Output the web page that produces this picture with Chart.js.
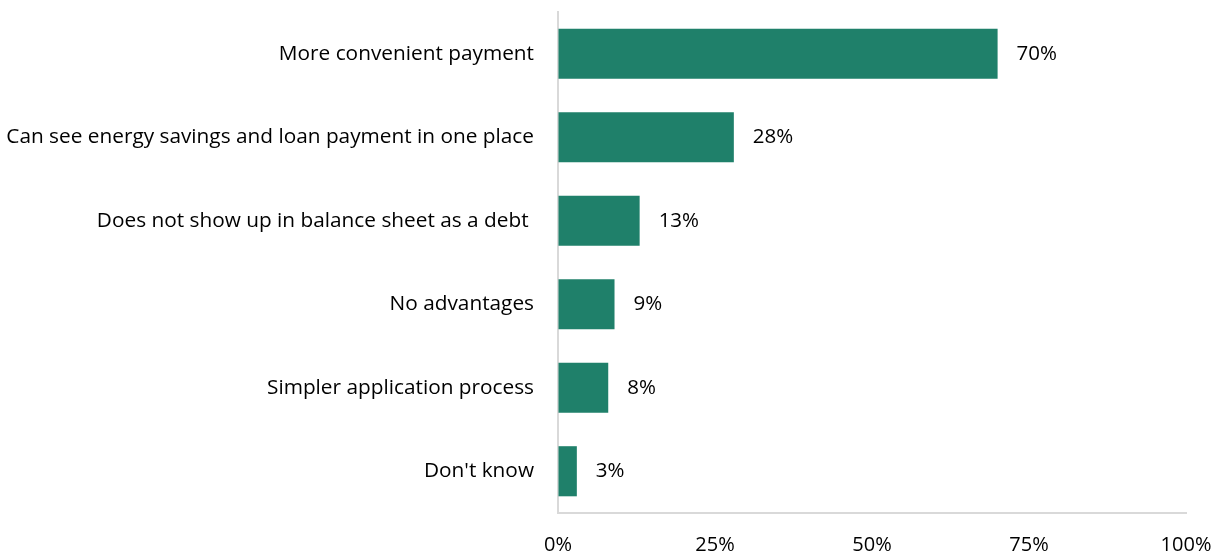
<!DOCTYPE html>
<html>
<head>
<meta charset="utf-8">
<script src="https://cdn.jsdelivr.net/npm/chart.js@4"></script>
<style>
  html, body { margin: 0; padding: 0; background: #fff; }
  #wrap { width: 1225px; height: 557px; }
</style>
</head>
<body>
<div id="wrap"><canvas id="advChart"></canvas></div>
<script>
const categories = [
  'More convenient payment',
  'Can see energy savings and loan payment in one place',
  'Does not show up in balance sheet as a debt ',
  'No advantages',
  'Simpler application process',
  "Don't know"
];
const shares = [70, 28, 13, 9, 8, 3];
const xTicks = [0, 25, 50, 75, 100];

const FONT = '"Open Sans", Lato, sans-serif';

// value labels to the right of each bar
const barLabels = {
  id: 'barLabels',
  afterDatasetsDraw(chart) {
    const ctx = chart.ctx;
    const meta = chart.getDatasetMeta(0);
    ctx.save();
    ctx.font = '20.5px ' + FONT;
    ctx.fillStyle = '#000';
    ctx.textAlign = 'left';
    ctx.textBaseline = 'middle';
    meta.data.forEach((bar, i) => {
      ctx.fillText(shares[i] + '%', bar.x + 19, bar.y);
    });
    ctx.restore();
  }
};

new Chart(document.getElementById('advChart'), {
  type: 'bar',
  data: {
    labels: categories,
    datasets: [{
      data: shares,
      backgroundColor: '#1f806a',
      barPercentage: 0.6,
      categoryPercentage: 1
    }]
  },
  options: {
    indexAxis: 'y',
    responsive: true,
    maintainAspectRatio: false,
    animation: false,
    layout: { autoPadding: false, padding: { top: 12, right: 39, left: 0, bottom: 0 } },
    plugins: { legend: { display: false }, tooltip: { enabled: false } },
    scales: {
      x: {
        min: 0,
        max: 100,
        afterBuildTicks(scale) { scale.ticks = xTicks.map(v => ({ value: v })); },
        afterFit(scale) {
          scale.height = 44;
          scale.paddingLeft = 0;
          scale.paddingRight = 0;
        },
        grid: { display: true, drawOnChartArea: false, drawTicks: false },
        border: { display: true, color: '#d9d9d9', width: 2 },
        ticks: {
          padding: 20,
          color: '#000',
          font: { family: FONT, size: 20 },
          callback: v => v + '%'
        }
      },
      y: {
        afterFit(scale) {
          scale.width = 558;
          scale.paddingTop = 0;
          scale.paddingBottom = 0;
        },
        grid: { display: true, drawOnChartArea: false, drawTicks: false },
        border: { display: true, color: '#d9d9d9', width: 2 },
        ticks: {
          padding: 24,
          color: '#000',
          font: { family: FONT, size: 20.8 }
        }
      }
    }
  },
  plugins: [barLabels]
});
</script>
</body>
</html>
